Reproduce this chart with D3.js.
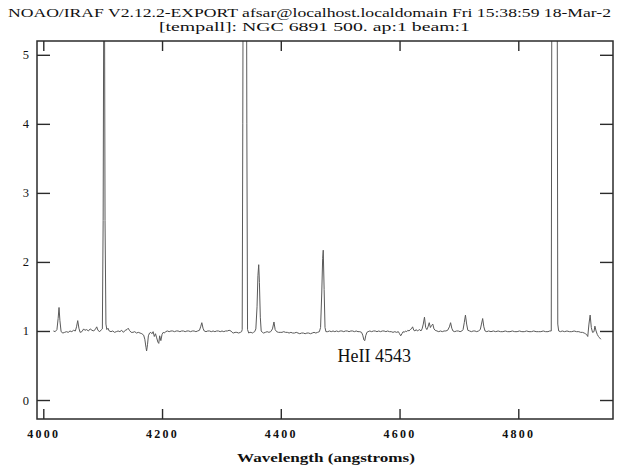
<!DOCTYPE html>
<html>
<head>
<meta charset="utf-8">
<script src="https://cdn.jsdelivr.net/npm/d3@7"></script>
<style>
  html, body { margin: 0; padding: 0; background: #fff; }
  svg { display: block; }
  text { fill: #111; }
</style>
</head>
<body>
<svg id="chart" width="619" height="471"></svg>
<script>
// IRAF splot of a normalized spectrum: NGC 6891, aperture 1

const titleLines = [
  "NOAO/IRAF V2.12.2-EXPORT afsar@localhost.localdomain Fri 15:38:59 18-Mar-2",
  "[tempall]: NGC 6891 500. ap:1 beam:1"
];
const xLabel = "Wavelength (angstroms)";
const xTicks = [4000, 4200, 4400, 4600, 4800];
const yTicks = [0, 1, 2, 3, 4, 5];
const xDomain = [3989.4, 4959.5];
const yDomain = [-0.275, 5.2];

const annotationText = "HeII 4543";
const annotationWave = 4543;

// wavelength (Å) and normalized flux samples
const wave = [
  4017, 4020, 4023, 4025, 4026.5, 4028, 4030, 4033, 4036, 4039, 4042, 4045, 4048, 4051, 4054,
  4056, 4058, 4060, 4062, 4065, 4068, 4070, 4073, 4076, 4079, 4082, 4085, 4088, 4090, 4092,
  4095, 4098, 4099.5, 4100.8, 4102.5, 4104, 4105.5, 4107, 4109, 4111, 4114, 4117, 4120, 4123,
  4126, 4129, 4132, 4135, 4138, 4141, 4143, 4145, 4148, 4151, 4154, 4157, 4160, 4163, 4166,
  4169, 4171, 4173, 4174, 4175.5, 4177, 4179, 4181, 4183, 4185, 4187, 4189, 4191, 4193, 4194.5,
  4196, 4198, 4200, 4202, 4204, 4206, 4209, 4212, 4215, 4218, 4221, 4224, 4227, 4230, 4233,
  4236, 4239, 4242, 4245, 4248, 4251, 4254, 4257, 4260, 4263, 4265, 4267, 4269, 4271, 4274,
  4277, 4280, 4283, 4286, 4289, 4292, 4295, 4298, 4301, 4304, 4307, 4310, 4313, 4316, 4318,
  4320, 4323, 4326, 4329, 4332, 4334, 4335, 4336, 4337.5, 4339.5, 4341.5, 4342.8, 4344, 4346,
  4348, 4350, 4352, 4354, 4356, 4358, 4360, 4361.5, 4362.8, 4364, 4365.5, 4367, 4369, 4371,
  4374, 4377, 4380, 4383, 4386, 4388.5, 4390.5, 4393, 4396, 4399, 4402, 4405, 4408, 4411,
  4414, 4417, 4420, 4423, 4426, 4429, 4432, 4435, 4438, 4441, 4444, 4447, 4450, 4453, 4456,
  4459, 4462, 4465, 4467, 4469, 4470.5, 4471.5, 4473, 4474.5, 4476, 4479, 4482, 4485, 4488,
  4491, 4494, 4497, 4500, 4503, 4506, 4509, 4512, 4515, 4518, 4521, 4524, 4527, 4530, 4533,
  4536, 4538, 4540, 4541.5, 4543, 4545, 4547, 4550, 4553, 4556, 4559, 4562, 4565, 4568, 4571,
  4574, 4577, 4580, 4583, 4586, 4589, 4592, 4595, 4598, 4600, 4602, 4604, 4606, 4608, 4610,
  4612, 4614, 4616, 4618, 4620, 4622, 4624, 4626, 4628, 4630, 4632, 4634, 4636, 4638, 4640,
  4642, 4644, 4646, 4648, 4650, 4652, 4654, 4656, 4658, 4660, 4663, 4666, 4669, 4672, 4675,
  4678, 4681, 4684, 4686, 4688, 4690, 4693, 4696, 4699, 4702, 4705, 4707, 4709, 4711, 4713,
  4715, 4718, 4721, 4724, 4727, 4730, 4733, 4736, 4738, 4740, 4742, 4744, 4747, 4750, 4754,
  4758, 4762, 4766, 4770, 4774, 4778, 4782, 4786, 4790, 4794, 4798, 4802, 4806, 4810, 4814,
  4818, 4822, 4826, 4830, 4834, 4838, 4842, 4846, 4850, 4853, 4855.5, 4856.5, 4858, 4861, 4864,
  4865.5, 4866.5, 4868, 4871, 4874, 4878, 4882, 4886, 4890, 4894, 4898, 4902, 4905, 4908, 4911,
  4913, 4915, 4917, 4919, 4921, 4923, 4925, 4927.5, 4929, 4931, 4933, 4935, 4937, 4939
];
const flux = [
  1.00, 0.99, 1.02, 1.18, 1.34, 1.15, 0.99, 0.97, 0.98, 0.99, 0.98, 1.00, 0.99, 1.01, 1.00,
  1.06, 1.15, 1.04, 0.98, 0.99, 1.03, 1.01, 1.02, 1.00, 1.03, 1.01, 1.00, 1.03, 1.06, 1.01,
  0.99, 1.02, 1.03, 2.60, 8.00, 2.60, 1.10, 1.02, 1.04, 1.00, 0.99, 1.00, 0.98, 0.99,
  1.00, 0.99, 1.01, 0.98, 1.01, 1.02, 1.04, 1.01, 0.98, 0.98, 0.99, 0.97, 0.98, 0.97, 0.96,
  0.94, 0.88, 0.76, 0.71, 0.80, 0.93, 0.97, 0.98, 0.96, 0.99, 0.92, 0.96, 0.90, 0.84, 0.82,
  0.93, 0.86, 0.95, 0.98, 0.97, 0.99, 1.00, 0.99, 1.00, 1.00, 0.99, 1.00, 1.00, 0.99, 1.00,
  1.00, 0.99, 1.00, 1.00, 0.99, 1.00, 1.00, 0.99, 1.00, 1.01, 1.06, 1.12, 1.04, 1.00, 0.99,
  1.00, 1.00, 0.99, 1.00, 0.99, 1.00, 1.00, 0.99, 1.00, 0.99, 1.00, 1.00, 1.01, 1.00, 0.98,
  0.97, 0.98, 0.98, 0.97, 0.98, 0.99, 1.02, 4.00, 10.0, 15.0, 10.0, 4.00, 1.02, 0.97,
  0.98, 0.98, 0.97, 0.98, 0.99, 1.03, 1.35, 1.80, 1.96, 1.70, 1.20, 1.00, 0.98, 0.97,
  0.98, 0.99, 0.98, 0.99, 1.03, 1.13, 1.02, 0.99, 0.98, 0.98, 0.98, 0.99, 0.98, 0.98,
  0.97, 0.98, 0.97, 0.97, 0.98, 0.97, 0.96, 0.97, 0.97, 0.96, 0.97, 0.97, 0.96, 0.97, 0.98,
  0.97, 0.98, 0.99, 1.05, 1.55, 2.05, 2.17, 1.60, 1.05, 0.99, 0.99, 1.00, 0.99, 1.00,
  0.99, 1.00, 0.99, 1.00, 1.00, 0.99, 1.00, 1.00, 0.99, 1.00, 1.00, 0.99, 1.00, 0.99, 0.99,
  0.98, 0.94, 0.87, 0.86, 0.93, 0.98, 0.99, 1.00, 0.99, 1.00, 1.00, 0.99, 1.00, 0.99, 1.00,
  1.00, 0.99, 1.00, 0.99, 0.99, 0.98, 0.99, 0.98, 0.99, 0.96, 0.93, 0.96, 0.99, 0.98, 1.00,
  0.99, 1.01, 1.00, 1.02, 1.03, 1.06, 1.01, 1.00, 1.02, 1.00, 1.01, 1.02, 1.00, 1.03, 1.10,
  1.20, 1.05, 1.02, 1.06, 1.12, 1.05, 1.08, 1.10, 1.03, 1.01, 1.00, 0.99, 1.00, 0.99, 1.00,
  1.00, 1.01, 1.06, 1.12, 1.04, 1.00, 0.99, 1.00, 1.00, 0.99, 1.00, 1.02, 1.12, 1.23, 1.10,
  1.01, 1.00, 0.99, 1.00, 1.00, 0.99, 1.00, 1.02, 1.10, 1.18, 1.06, 1.00, 0.99, 1.00, 0.99,
  1.00, 0.99, 1.00, 0.99, 0.99, 1.00, 0.99, 0.99, 1.00, 0.99, 0.99, 1.00, 0.99, 0.99, 1.00,
  0.99, 0.99, 1.00, 0.99, 0.99, 0.99, 1.00, 0.99, 0.99, 1.00, 1.00, 6.00, 18.0, 30.0, 18.0,
  6.00, 1.10, 1.00, 0.99, 1.00, 0.99, 1.00, 0.99, 0.99, 1.00, 0.99, 0.99, 0.98, 0.98, 0.97,
  0.96, 0.95, 0.92, 1.10, 1.23, 1.05, 0.98, 0.99, 1.07, 1.00, 0.95, 0.92, 0.90, 0.88
];

const svg = d3.select("#chart");
const frame = { left: 37, right: 613, top: 41, bottom: 419 };

const x = d3.scaleLinear().domain(xDomain).range([frame.left, frame.right]);
const y = d3.scaleLinear().domain(yDomain).range([frame.bottom, frame.top]);

const ink = "#2b2b2b";

// title block
svg.append("text")
  .attr("x", 8).attr("y", 16.5)
  .attr("textLength", 603).attr("lengthAdjust", "spacingAndGlyphs")
  .style("font-family", "'Liberation Serif', serif")
  .style("font-size", "13.5px")
  .text(titleLines[0]);
svg.append("text")
  .attr("x", 159).attr("y", 30.5)
  .attr("textLength", 311).attr("lengthAdjust", "spacingAndGlyphs")
  .style("font-family", "'Liberation Serif', serif")
  .style("font-size", "13.5px")
  .text(titleLines[1]);

// clip the spectrum to the plot frame
svg.append("clipPath").attr("id", "plot-clip")
  .append("rect")
  .attr("x", frame.left).attr("y", frame.top)
  .attr("width", frame.right - frame.left)
  .attr("height", frame.bottom - frame.top);

const points = wave.map((w, i) => [w, flux[i]]);
const line = d3.line().x(d => x(d[0])).y(d => y(d[1]));

svg.append("path")
  .datum(points)
  .attr("clip-path", "url(#plot-clip)")
  .attr("fill", "none")
  .attr("stroke", "#5a5a5a")
  .attr("stroke-width", 1)
  .attr("stroke-linejoin", "round")
  .attr("d", line);

// axes: inward ticks on all four sides, labels on bottom and left only
function styleAxis(g) {
  g.select(".domain").remove();
  g.selectAll(".tick line").attr("stroke", ink).attr("stroke-width", 1.4);
}

svg.append("g")
  .attr("transform", `translate(0,${frame.bottom})`)
  .call(d3.axisBottom(x).tickValues(xTicks).tickSize(-10).tickPadding(10.5).tickFormat(d3.format("d")))
  .call(styleAxis)
  .call(g => g.selectAll(".tick text")
    .style("font-family", "'Liberation Serif', serif")
    .style("font-size", "12px")
    .style("font-weight", "bold")
    .style("letter-spacing", "2.3px")
    .attr("fill", "#222"));

svg.append("g")
  .attr("transform", `translate(0,${frame.top})`)
  .call(d3.axisTop(x).tickValues(xTicks).tickSize(-10).tickFormat(""))
  .call(styleAxis);

svg.append("g")
  .attr("transform", `translate(${frame.left},0)`)
  .call(d3.axisLeft(y).tickValues(yTicks).tickSize(-13).tickPadding(8).tickFormat(d3.format("d")))
  .call(styleAxis)
  .call(g => g.selectAll(".tick text")
    .style("font-family", "'Liberation Serif', serif")
    .style("font-size", "12.5px")
    .attr("fill", "#222"));

svg.append("g")
  .attr("transform", `translate(${frame.right},0)`)
  .call(d3.axisRight(y).tickValues(yTicks).tickSize(-13).tickFormat(""))
  .call(styleAxis);

// plot frame
svg.append("rect")
  .attr("x", frame.left).attr("y", frame.top)
  .attr("width", frame.right - frame.left)
  .attr("height", frame.bottom - frame.top)
  .attr("fill", "none")
  .attr("stroke", ink)
  .attr("stroke-width", 1.5);

// axis title
svg.append("text")
  .attr("x", 237).attr("y", 462)
  .attr("textLength", 178).attr("lengthAdjust", "spacingAndGlyphs")
  .style("font-family", "'Liberation Serif', serif")
  .style("font-size", "13px")
  .style("font-weight", "bold")
  .attr("fill", "#222")
  .text(xLabel);

// line annotation
svg.append("text")
  .attr("x", x(annotationWave) + 8.5).attr("y", 362)
  .attr("text-anchor", "middle")
  .style("font-family", "'Liberation Serif', serif")
  .style("font-size", "18px")
  .attr("fill", "#000")
  .text(annotationText);
</script>
</body>
</html>
